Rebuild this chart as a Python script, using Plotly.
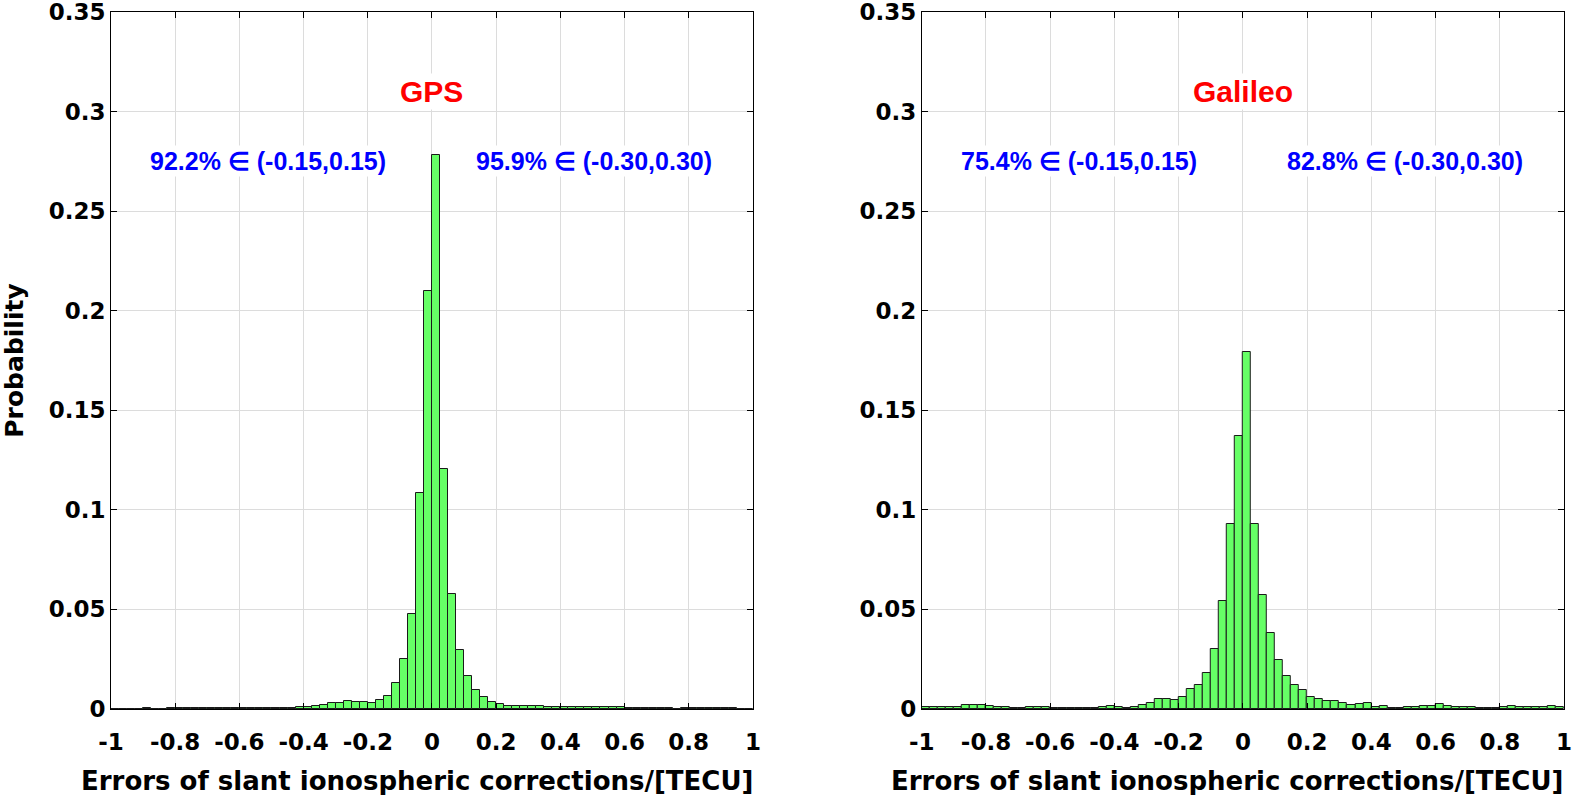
import numpy as np
import plotly.graph_objects as go

# histogram bins: left edges from -1 to 1, width 0.025
bin_width = 0.025
bin_left = np.round(np.arange(-1, 1, bin_width), 3)

gps_prob = [
    0.0002, 0.0002, 0.0002, 0.0002, 0.0003, 0.0002, 0.0002, 0.0003,
    0.0005, 0.0004, 0.0005, 0.0005, 0.0004, 0.0005, 0.0004, 0.0003,
    0.0004, 0.0004, 0.0005, 0.0006, 0.0004, 0.0004, 0.0005, 0.0008,
    0.0012, 0.0017, 0.0022, 0.0030, 0.0030, 0.0038, 0.0035, 0.0035,
    0.0032, 0.0045, 0.0067, 0.0130, 0.0251, 0.0477, 0.1083, 0.2100,
    0.2780, 0.1206, 0.0575, 0.0296, 0.0166, 0.0094, 0.0062, 0.0035,
    0.0023, 0.0017, 0.0013, 0.0017, 0.0015, 0.0015, 0.0010, 0.0008,
    0.0010, 0.0012, 0.0010, 0.0012, 0.0010, 0.0010, 0.0008, 0.0008,
    0.0006, 0.0004, 0.0003, 0.0003, 0.0003, 0.0003, 0.0002, 0.0003,
    0.0004, 0.0005, 0.0005, 0.0004, 0.0003, 0.0003, 0.0002, 0.0002,
]

galileo_prob = [
    0.0010, 0.0010, 0.0010, 0.0010, 0.0008, 0.0020, 0.0020, 0.0018,
    0.0013, 0.0008, 0.0008, 0.0007, 0.0006, 0.0010, 0.0010, 0.0010,
    0.0006, 0.0006, 0.0006, 0.0006, 0.0006, 0.0007, 0.0010, 0.0015,
    0.0012, 0.0007, 0.0012, 0.0020, 0.0032, 0.0050, 0.0048, 0.0045,
    0.0059, 0.0102, 0.0122, 0.0182, 0.0301, 0.0540, 0.0928, 0.1371,
    0.1794, 0.0928, 0.0574, 0.0383, 0.0245, 0.0164, 0.0123, 0.0094,
    0.0061, 0.0050, 0.0038, 0.0041, 0.0030, 0.0020, 0.0025, 0.0028,
    0.0012, 0.0015, 0.0007, 0.0007, 0.0008, 0.0010, 0.0013, 0.0015,
    0.0025, 0.0017, 0.0012, 0.0012, 0.0008, 0.0007, 0.0007, 0.0007,
    0.0012, 0.0013, 0.0012, 0.0012, 0.0012, 0.0012, 0.0013, 0.0012,
]

systems = ["GPS", "Galileo"]
pct_015 = ["92.2% \u2208 (-0.15,0.15)", "75.4% \u2208 (-0.15,0.15)"]
pct_030 = ["95.9% \u2208 (-0.30,0.30)", "82.8% \u2208 (-0.30,0.30)"]

x_ticks = [-1, -0.8, -0.6, -0.4, -0.2, 0, 0.2, 0.4, 0.6, 0.8, 1]
x_ticktext = ["-1", "-0.8", "-0.6", "-0.4", "-0.2", "0", "0.2", "0.4", "0.6", "0.8", "1"]
y_ticks = [0, 0.05, 0.1, 0.15, 0.2, 0.25, 0.3, 0.35]
y_ticktext = ["0", "0.05", "0.1", "0.15", "0.2", "0.25", "0.3", "0.35"]

AXFONT = "DejaVu Sans, sans-serif"
TXFONT = "Liberation Sans, Arial, sans-serif"
xlabel = "Errors of slant ionospheric corrections/[TECU]"

fig = go.Figure()
for k, probs in enumerate([gps_prob, galileo_prob]):
    sfx = "" if k == 0 else "2"
    fig.add_trace(go.Bar(
        x=bin_left, y=probs, width=bin_width, offset=0,
        marker=dict(color="#66ff66", line=dict(color="#1a1a1a", width=1)),
        xaxis="x" + sfx, yaxis="y" + sfx, showlegend=False,
    ))

axis_common = dict(
    showline=True, linecolor="black", linewidth=1, mirror="ticks",
    ticks="inside", ticklen=6, tickcolor="black", automargin=False,
    ticklabeloverflow="allow",
    showgrid=True, gridcolor="#dcdcdc", gridwidth=1, zeroline=False,
    tickfont=dict(family=AXFONT, size=23, color="black", weight="bold"),
)

fig.update_layout(
    template="none",
    width=1594, height=795,
    margin=dict(l=111, r=30, t=12, b=86),
    plot_bgcolor="white", paper_bgcolor="white",
    bargap=0,
    xaxis=dict(domain=[0, 0.4418], range=[-1, 1], tickvals=x_ticks, ticktext=x_ticktext,
               ticklabelstandoff=12, anchor="y", **axis_common),
    yaxis=dict(domain=[0, 1], range=[0, 0.3500001], tickvals=y_ticks, ticktext=y_ticktext,
               title=dict(text="Probability", font=dict(family=AXFONT, size=25, color="black", weight="bold"),
                          standoff=28),
               anchor="x", **axis_common),
    xaxis2=dict(domain=[0.558, 1], range=[-1, 1], tickvals=x_ticks, ticktext=x_ticktext,
                ticklabelstandoff=12, anchor="y2", **axis_common),
    yaxis2=dict(domain=[0, 1], range=[0, 0.3500001], tickvals=y_ticks, ticktext=y_ticktext,
                anchor="x2", **axis_common),
)

for k, name in enumerate(systems):
    sfx = "" if k == 0 else "2"
    # x axis title, sits a little left of the axis centre like the original
    fig.add_annotation(x=0.476, y=-0.103, xref="x" + sfx + " domain", yref="paper", text=xlabel,
                       showarrow=False, yanchor="middle",
                       font=dict(family=AXFONT, size=26, color="black", weight="bold"))
    fig.add_annotation(x=0, y=0.31, xref="x" + sfx, yref="y" + sfx, text=name, showarrow=False,
                       font=dict(family=TXFONT, size=30, color="red", weight="bold"), bgcolor="white")
    fig.add_annotation(x=-0.51, y=0.275, xref="x" + sfx, yref="y" + sfx, text=pct_015[k], showarrow=False,
                       font=dict(family=TXFONT, size=25, color="blue", weight="bold"), bgcolor="white")
    fig.add_annotation(x=0.505, y=0.275, xref="x" + sfx, yref="y" + sfx, text=pct_030[k], showarrow=False,
                       font=dict(family=TXFONT, size=25, color="blue", weight="bold"), bgcolor="white")

# drop the page's default body margin so the figure sits at the window origin
fig.write_html("out.html", config={"displayModeBar": False},
               post_script="document.body.style.margin='0';")
